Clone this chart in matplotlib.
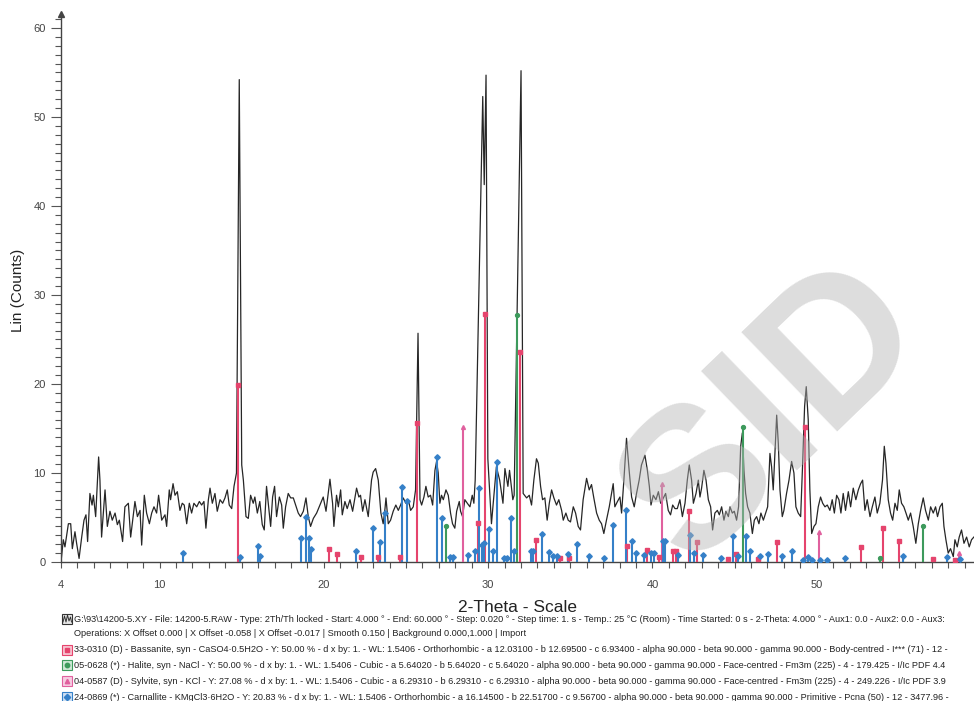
import matplotlib.pyplot as plt
from matplotlib.patches import Rectangle
from matplotlib.ticker import MultipleLocator

# measured pattern (2-theta in degrees, counts)
two_theta = [4.00, 4.14, 4.24, 4.45, 4.59, 4.69, 4.85, 4.95, 5.10, 5.26, 5.40, 5.52, 5.62, 5.76, 5.89,
             5.97, 6.11, 6.29, 6.37, 6.47, 6.68, 6.82, 6.98, 7.12, 7.29, 7.43, 7.55, 7.75, 7.89, 8.10,
             8.24, 8.50, 8.65, 8.81, 8.91, 9.07, 9.21, 9.38, 9.52, 9.66, 9.82, 9.94, 10.13, 10.33, 10.43,
             10.59, 10.67, 10.82, 10.94, 11.08, 11.24, 11.38, 11.50, 11.65, 11.81, 11.95, 12.09, 12.26,
             12.42, 12.56, 12.70, 12.82, 12.97, 13.07, 13.21, 13.37, 13.51, 13.68, 13.84, 13.98, 14.12,
             14.24, 14.39, 14.53, 14.68, 14.85, 15.00, 15.10, 15.26, 15.40, 15.54, 15.70, 15.80, 15.95,
             16.10, 16.25, 16.37, 16.51, 16.66, 16.76, 16.88, 17.00, 17.12, 17.29, 17.43, 17.53, 17.67,
             17.83, 17.98, 18.14, 18.28, 18.44, 18.58, 18.75, 18.91, 19.05, 19.19, 19.36, 19.56, 19.76,
             19.96, 20.13, 20.37, 20.53, 20.61, 20.77, 20.88, 21.02, 21.12, 21.28, 21.42, 21.59, 21.75,
             21.99, 22.13, 22.23, 22.36, 22.50, 22.70, 22.90, 23.00, 23.15, 23.31, 23.47, 23.61, 23.72,
             23.78, 23.92, 24.06, 24.22, 24.38, 24.53, 24.67, 24.83, 24.99, 25.14, 25.28, 25.44, 25.58,
             25.73, 25.85, 25.95, 26.09, 26.21, 26.35, 26.49, 26.62, 26.76, 26.86, 26.96, 27.06, 27.16,
             27.27, 27.43, 27.57, 27.71, 27.83, 27.97, 28.08, 28.24, 28.32, 28.44, 28.58, 28.73, 28.89,
             29.03, 29.13, 29.21, 29.67, 29.76, 29.87, 29.98, 30.20, 30.50, 30.70, 30.90, 31.02, 31.20,
             31.30, 31.50, 31.58, 32.00, 32.13, 32.34, 32.50, 32.64, 32.78, 32.94, 33.05, 33.19, 33.31,
             33.45, 33.59, 33.72, 33.86, 34.00, 34.16, 34.30, 34.47, 34.57, 34.73, 34.87, 35.01, 35.18,
             35.32, 35.48, 35.62, 35.78, 35.99, 36.15, 36.29, 36.43, 36.60, 36.76, 36.90, 37.04, 37.20,
             37.37, 37.51, 37.61, 37.71, 37.87, 38.02, 38.12, 38.26, 38.42, 38.58, 38.73, 38.89, 39.03,
             39.19, 39.33, 39.54, 39.69, 39.81, 39.91, 40.05, 40.21, 40.36, 40.50, 40.66, 40.80, 40.96,
             41.10, 41.23, 41.37, 41.51, 41.67, 41.82, 41.98, 42.12, 42.24, 42.38, 42.49, 42.65, 42.79,
             42.89, 42.99, 43.13, 43.26, 43.40, 43.54, 43.66, 43.80, 43.95, 44.07, 44.21, 44.35, 44.47,
             44.62, 44.72, 44.86, 44.98, 45.12, 45.24, 45.37, 45.47, 45.57, 45.67, 45.79, 45.93, 46.08,
             46.20, 46.34, 46.48, 46.60, 46.75, 46.89, 47.01, 47.15, 47.25, 47.35, 47.45, 47.56, 47.66,
             47.76, 47.90, 48.00, 48.16, 48.31, 48.47, 48.61, 48.73, 48.87, 49.02, 49.14, 49.26, 49.36,
             49.48, 49.58, 49.69, 49.83, 49.95, 50.09, 50.23, 50.36, 50.50, 50.64, 50.80, 50.94, 51.07,
             51.21, 51.35, 51.47, 51.61, 51.75, 51.92, 52.06, 52.22, 52.38, 52.53, 52.67, 52.79, 52.93,
             53.07, 53.24, 53.38, 53.54, 53.68, 53.84, 54.00, 54.11, 54.21, 54.35, 54.49, 54.62, 54.76,
             54.90, 55.02, 55.16, 55.30, 55.43, 55.57, 55.71, 55.87, 56.03, 56.18, 56.32, 56.48, 56.62,
             56.79, 56.93, 57.09, 57.23, 57.35, 57.50, 57.64, 57.74, 57.86, 58.00, 58.14, 58.31, 58.41,
             58.55, 58.67, 58.81, 58.96, 59.12, 59.28, 59.42, 59.56]
counts = [0.0, 2.5, 1.7, 4.3, 4.3, 1.5, 3.4, 2.1, 0.4, 2.8, 4.7, 5.3, 2.3, 7.7, 6.4,
          7.5, 5.1, 11.8, 9.2, 2.8, 8.1, 4.0, 5.7, 4.7, 5.5, 4.2, 4.7, 2.3, 6.2, 6.6,
          2.8, 6.8, 5.1, 5.8, 1.9, 7.5, 5.5, 4.3, 5.5, 6.2, 5.5, 7.5, 4.7, 5.3, 4.0,
          8.1, 7.0, 8.8, 7.5, 7.9, 5.8, 6.6, 6.4, 4.3, 6.6, 5.5, 6.6, 6.2,
          6.8, 6.4, 6.8, 3.8, 7.0, 8.3, 6.6, 7.7, 5.7, 7.0, 6.6, 7.2, 8.1,
          6.4, 6.0, 8.5, 10.0, 54.2, 10.9, 9.2, 5.1, 4.9, 7.5, 6.6, 7.3, 5.5,
          6.8, 4.2, 3.6, 8.5, 5.8, 4.0, 7.3, 8.5, 5.1, 7.3, 6.4, 3.8, 6.2,
          7.7, 7.2, 7.2, 6.4, 5.5, 5.1, 5.7, 7.2, 5.1, 4.0, 4.9, 5.5, 6.4,
          7.3, 5.7, 9.3, 6.6, 4.0, 7.5, 6.2, 8.1, 5.3, 6.8, 6.0, 7.0, 5.7,
          8.3, 7.3, 7.5, 5.7, 7.0, 5.1, 9.2, 10.1, 10.5, 9.2, 5.5, 4.3, 6.0,
          7.2, 4.3, 4.7, 5.7, 6.4, 5.8, 6.4, 7.2, 6.6, 7.0, 5.8, 6.2, 8.1,
          25.7, 7.0, 6.4, 7.3, 8.5, 7.3, 7.5, 6.4, 10.3, 11.3, 10.0, 6.6, 7.5,
          7.0, 8.1, 7.5, 5.5, 4.3, 3.8, 5.7, 6.8, 5.7, 5.1, 7.0, 6.6, 6.2,
          7.5, 6.6, 9.2, 52.3, 42.4, 54.7, 11.6, 4.3, 10.7, 9.2, 6.6, 10.5, 8.5,
          10.3, 7.0, 7.5, 55.2, 7.7, 7.2, 7.5, 6.4, 9.2, 11.6, 11.1, 8.5, 7.0,
          7.2, 4.7, 6.6, 8.1, 7.2, 6.4, 7.0, 5.8, 4.7, 5.5, 4.7, 4.5, 6.2,
          5.5, 4.0, 3.6, 7.0, 9.4, 8.1, 8.7, 7.2, 5.5, 4.7, 4.3, 3.2, 4.7,
          6.2, 7.7, 8.8, 6.2, 6.8, 7.3, 5.5, 9.2, 13.9, 10.3, 7.3, 6.2, 7.7,
          9.2, 10.9, 12.0, 10.3, 8.5, 6.4, 7.5, 7.0, 7.9, 6.6, 7.2, 7.7, 5.8,
          5.3, 6.4, 6.0, 6.0, 7.0, 5.1, 6.6, 9.2, 10.9, 9.2, 6.6, 7.7, 9.2,
          7.3, 8.3, 10.3, 9.2, 7.0, 6.2, 3.6, 5.5, 5.8, 5.3, 6.2, 4.7, 5.7,
          5.1, 6.2, 5.5, 5.7, 4.7, 6.2, 13.0, 14.5, 10.3, 7.7, 6.2, 5.5, 3.2,
          4.7, 5.1, 4.3, 5.5, 4.7, 5.5, 6.2, 12.2, 10.7, 8.1, 12.2, 16.5, 13.3,
          8.1, 5.1, 5.8, 7.7, 9.2, 11.3, 10.0, 6.2, 5.5, 5.1, 11.1, 17.5, 19.7,
          16.0, 8.1, 3.2, 4.0, 4.3, 6.2, 7.3, 6.6, 6.2, 6.4, 5.8, 7.0, 5.5,
          7.5, 7.0, 5.5, 7.7, 5.8, 7.9, 6.2, 8.3, 7.0, 8.1, 8.8, 9.2, 5.8,
          7.0, 5.1, 6.2, 7.3, 5.5, 6.6, 9.2, 13.0, 11.1, 7.0, 5.5, 4.7, 6.6,
          5.8, 8.1, 6.6, 6.2, 5.5, 4.7, 5.5, 4.0, 2.1, 4.3, 5.8, 7.2, 5.8,
          4.7, 6.2, 5.5, 6.2, 5.1, 6.2, 6.6, 4.0, 2.5, 1.0, 1.5, 0.6, 2.5,
          1.7, 2.8, 3.6, 2.1, 2.8, 1.7, 2.5, 2.8]

# reference patterns (stick position, stick height)
bassanite_pos = [14.77, 20.33, 20.77, 22.28, 23.27, 24.63, 25.68, 29.40, 29.80, 31.95, 32.94, 34.36,
                 34.93, 38.42, 39.64, 40.42, 41.27, 41.41, 42.22, 42.73, 44.62, 45.06, 46.40, 47.56,
                 49.30, 52.67, 54.05, 55.02, 57.09, 58.41]
bassanite_int = [19.9, 1.5, 0.9, 0.6, 0.6, 0.6, 15.6, 4.4, 27.9, 23.6, 2.5, 0.4,
                 0.5, 1.8, 1.4, 0.6, 1.2, 1.2, 5.7, 2.3, 0.3, 0.9, 0.3, 2.2,
                 15.2, 1.7, 3.8, 2.4, 0.3, 0.2]
halite_pos = [27.41, 31.75, 45.49, 53.84, 56.44]
halite_int = [4.0, 27.8, 15.2, 0.5, 4.1]
sylvite_pos = [28.44, 40.56, 50.15, 58.67]
sylvite_int = [15.2, 8.8, 3.4, 1.0]
carnallite_pos = [11.44, 14.89, 15.97, 16.11, 18.58, 18.91, 19.11, 19.21, 21.95, 23.00, 23.41, 23.72,
                  24.73, 25.07, 26.86, 27.20, 27.67, 27.83, 28.80, 29.19, 29.44, 29.64, 29.74, 30.04,
                  30.27, 30.51, 30.96, 31.12, 31.36, 31.58, 32.60, 32.74, 33.29, 33.70, 33.96, 34.16,
                  34.87, 35.40, 36.15, 37.02, 37.57, 38.36, 38.77, 38.99, 39.50, 39.91, 40.11, 40.62,
                  40.76, 41.57, 42.28, 42.55, 43.09, 44.15, 44.92, 45.18, 45.67, 45.93, 46.54, 47.03,
                  47.86, 48.51, 49.18, 49.44, 49.73, 50.19, 50.64, 51.73, 55.22, 57.94, 58.71]
carnallite_int = [1.0, 0.6, 1.8, 0.7, 2.7, 5.0, 2.7, 1.5, 1.2, 3.8, 2.2, 5.5,
                  8.4, 6.8, 11.8, 4.9, 0.6, 0.6, 0.8, 1.2, 8.3, 1.9, 2.1, 3.7,
                  1.2, 11.2, 0.5, 0.5, 4.9, 1.2, 1.2, 1.2, 3.1, 1.1, 0.7, 0.7,
                  0.9, 2.0, 0.7, 0.4, 4.2, 5.8, 2.4, 1.0, 0.8, 1.0, 1.0, 2.4,
                  2.4, 0.8, 3.0, 1.0, 0.8, 0.5, 2.9, 0.7, 2.9, 1.2, 0.7, 0.9,
                  0.7, 1.2, 0.2, 0.6, 0.2, 0.2, 0.2, 0.4, 0.7, 0.6, 0.3]

legend_lines = [
    r"G:\93\14200-5.XY - File: 14200-5.RAW - Type: 2Th/Th locked - Start: 4.000 ° - End: 60.000 ° - Step: 0.020 ° - Step time: 1. s - Temp.: 25 °C (Room) - Time Started: 0 s - 2-Theta: 4.000 ° - Aux1: 0.0 - Aux2: 0.0 - Aux3:",
    "Operations: X Offset 0.000 | X Offset -0.058 | X Offset -0.017 | Smooth 0.150 | Background 0.000,1.000 | Import",
    "33-0310 (D) - Bassanite, syn - CaSO4·0.5H2O - Y: 50.00 % - d x by: 1. - WL: 1.5406 - Orthorhombic - a 12.03100 - b 12.69500 - c 6.93400 - alpha 90.000 - beta 90.000 - gamma 90.000 - Body-centred - I*** (71) - 12 -",
    "05-0628 (*) - Halite, syn - NaCl - Y: 50.00 % - d x by: 1. - WL: 1.5406 - Cubic - a 5.64020 - b 5.64020 - c 5.64020 - alpha 90.000 - beta 90.000 - gamma 90.000 - Face-centred - Fm3m (225) - 4 - 179.425 - I/Ic PDF 4.4",
    "04-0587 (D) - Sylvite, syn - KCl - Y: 27.08 % - d x by: 1. - WL: 1.5406 - Cubic - a 6.29310 - b 6.29310 - c 6.29310 - alpha 90.000 - beta 90.000 - gamma 90.000 - Face-centred - Fm3m (225) - 4 - 249.226 - I/Ic PDF 3.9",
    "24-0869 (*) - Carnallite - KMgCl3·6H2O - Y: 20.83 % - d x by: 1. - WL: 1.5406 - Orthorhombic - a 16.14500 - b 22.51700 - c 9.56700 - alpha 90.000 - beta 90.000 - gamma 90.000 - Primitive - Pcna (50) - 12 - 3477.96 -",
]

plt.rcParams['font.family'] = ['Liberation Sans', 'DejaVu Sans']

W, H = 974, 701
fig = plt.figure(figsize=(W / 100, H / 100), dpi=100)
ax = fig.add_axes([61 / W, 139 / H, 913 / W, 548 / H])

ax.plot(two_theta, counts, color='#262626', lw=0.9, zorder=2)

phases = [
    (bassanite_pos, bassanite_int, '#e5446d', 's'),
    (halite_pos, halite_int, '#3d9a5c', 'o'),
    (sylvite_pos, sylvite_int, '#e0609e', '^'),
    (carnallite_pos, carnallite_int, '#3580c8', 'D'),
]
for pos, hgt, col, mk in phases:
    ax.vlines(pos, 0, hgt, color=col, lw=1.5, zorder=3)
    ax.plot(pos, hgt, linestyle='none', marker=mk, color=col, markersize=2.8, zorder=4)

ax.set_xlim(4, 59.57)
ax.set_ylim(0, 61.57)
ax.set_xticks([4, 10, 20, 30, 40, 50])
ax.xaxis.set_minor_locator(MultipleLocator(1))
ax.set_yticks(range(0, 61, 10))
ax.yaxis.set_minor_locator(MultipleLocator(1))
ax.tick_params(axis='x', which='both', length=4, width=0.8, color='#555555', pad=9,
               labelsize=8, labelcolor='#444444')
ax.tick_params(axis='y', which='major', length=7, width=0.8, color='#555555', pad=4,
               labelsize=8, labelcolor='#444444')
ax.tick_params(axis='y', which='minor', length=4, width=0.8, color='#555555')
for s in ['top', 'right']:
    ax.spines[s].set_visible(False)
for s in ['left', 'bottom']:
    ax.spines[s].set_color('#444444')
    ax.spines[s].set_linewidth(1.0)
ax.plot([0], [1], marker='^', color='#444444', markersize=4, transform=ax.transAxes, clip_on=False)

fig.text(18 / W, 1 - 290 / H, 'Lin (Counts)', fontsize=11, color='#222222', rotation=90,
         ha='center', va='center')
fig.text(518 / W, 1 - 607 / H, '2-Theta - Scale', fontsize=12.5, color='#222222', ha='center', va='center')

# legend block under the chart
def fx(px):
    return px / W

def fy(py):
    return 1 - py / H

row_y = [619, 634, 650, 665, 681, 697]
icons = [None, None, ('#e5446d', '#f7c3d0', 's'), ('#3d9a5c', '#cfe8d6', 'o'),
         ('#e0609e', '#f6cde2', '^'), ('#3580c8', '#cfe0f3', 'D')]
for text, yy, icon in zip(legend_lines, row_y, icons):
    fig.text(fx(74), fy(yy), text, fontsize=6.6, color='#222222', ha='left', va='center')
    if icon is not None:
        edge, face, mk = icon
        fig.add_artist(Rectangle((fx(62), fy(yy + 5)), 10 / W, 10 / H, transform=fig.transFigure,
                                 facecolor=face, edgecolor=edge, lw=0.8))
        fig.add_artist(plt.Line2D([fx(67)], [fy(yy)], marker=mk, color=edge, markersize=3.2,
                                  transform=fig.transFigure))
# raw-file icon of first row
fig.add_artist(Rectangle((fx(62), fy(624)), 10 / W, 10 / H, transform=fig.transFigure,
                         facecolor='#e8e8e8', edgecolor='#333333', lw=0.8))
fig.add_artist(plt.Line2D([fx(63), fx(64.5), fx(66), fx(67.5), fx(69), fx(70.5), fx(71.5)],
                          [fy(622), fy(616), fy(622), fy(615), fy(621), fy(617), fy(622)],
                          color='#333333', lw=0.7, transform=fig.transFigure))

# faint watermark of the source page
fig.text(fx(775), fy(415), 'SID', fontsize=145, fontweight='bold', color='#b4b4b4',
         alpha=0.45, rotation=44, ha='center', va='center', zorder=10)

fig.savefig('out.png', dpi=100)
